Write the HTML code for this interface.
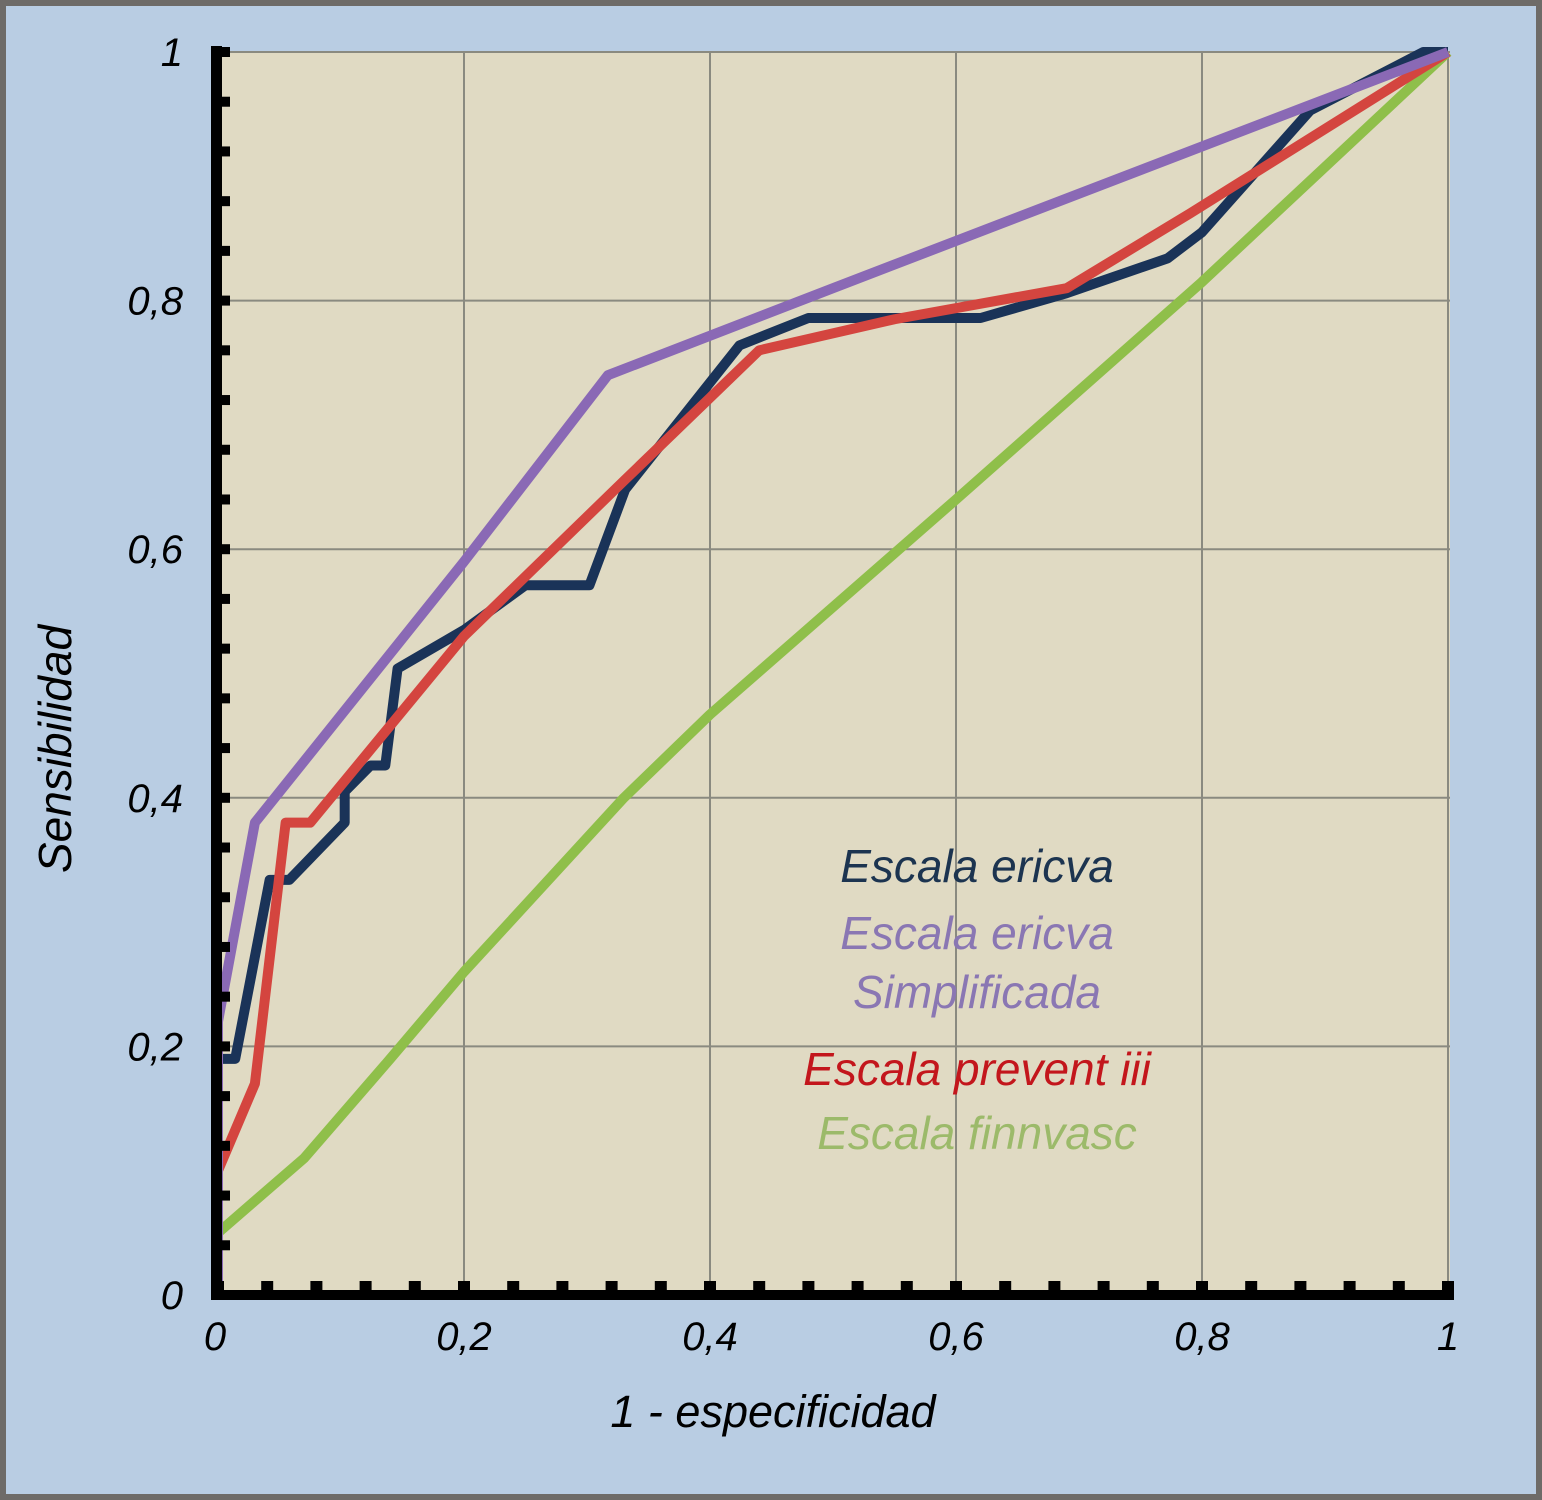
<!DOCTYPE html>
<html><head><meta charset="utf-8"><style>
html,body{margin:0;padding:0;}
body{width:1542px;height:1500px;overflow:hidden;background:#6e6b68;}
svg{display:block;}
text{font-family:"Liberation Sans",sans-serif;font-style:italic;}
</style></head><body>
<svg id="chart" width="1542" height="1500">
<rect x="6" y="6" width="1530" height="1488" fill="#b9cde3"/>
<rect x="218" y="52" width="1232" height="1243" fill="#e0dac3"/>
<g id="grid"></g><g id="series"></g><g id="axes"></g>
<text x="977" y="882" font-size="46" fill="#1c3450" text-anchor="middle">Escala ericva</text>
<text x="977" y="949" font-size="46" fill="#8a77b3" text-anchor="middle">Escala ericva</text>
<text x="977" y="1008" font-size="46" fill="#8a77b3" text-anchor="middle">Simplificada</text>
<text x="977" y="1085" font-size="46" fill="#c3161c" text-anchor="middle">Escala prevent iii</text>
<text x="977" y="1149" font-size="46" fill="#9cba6a" text-anchor="middle">Escala finnvasc</text>
<text x="773" y="1427" font-size="45" fill="#000" text-anchor="middle">1 - especificidad</text>
<text transform="translate(71,749) rotate(-90)" font-size="46" fill="#000" text-anchor="middle">Sensibilidad</text>
</svg>
<script>
const ticks=[0,0.2,0.4,0.6,0.8,1];
const tickLabels=["0","0,2","0,4","0,6","0,8","1"];
const ericvaX=[0,0,0.014,0.042,0.058,0.103,0.103,0.124,0.136,0.146,0.2,0.25,0.302,0.331,0.424,0.48,0.62,0.69,0.772,0.8,0.888,0.98,1];
const ericvaY=[0,0.19,0.19,0.334,0.334,0.38,0.405,0.426,0.426,0.504,0.535,0.571,0.571,0.648,0.764,0.786,0.786,0.806,0.834,0.855,0.953,1,1];
const simpX=[0,0,0.03,0.2,0.317,0.5,1];
const simpY=[0,0.22,0.38,0.59,0.74,0.81,1];
const preventX=[0,0.03,0.055,0.075,0.2,0.33,0.44,0.55,0.69,0.79,1];
const preventY=[0.1,0.17,0.38,0.38,0.53,0.655,0.76,0.785,0.81,0.87,1];
const finnX=[0,0.07,0.14,0.2,0.33,0.4,0.6,0.8,1];
const finnY=[0.05,0.11,0.19,0.26,0.4,0.467,0.64,0.815,1];
const X0=218,X1=1448,Y0=1295,Y1=52;
const sx=v=>X0+v*(X1-X0), sy=v=>Y0-v*(Y0-Y1);
const NS="http://www.w3.org/2000/svg";
const grid=document.getElementById('grid'),axes=document.getElementById('axes'),series=document.getElementById('series');
function mk(tag,attrs,parent){const e=document.createElementNS(NS,tag);for(const k in attrs)e.setAttribute(k,attrs[k]);parent.appendChild(e);return e;}
ticks.forEach((t,i)=>{
  if(t>0){const g=mk('line',{x1:sx(t),x2:sx(t),y1:Y1,y2:Y0,stroke:'#8a8a80','stroke-width':2},grid);
  
  
  const h=mk('line',{x1:X0,x2:X1+2,y1:sy(t),y2:sy(t),stroke:'#8a8a80','stroke-width':2},grid);
  
  }
  const xl=mk('text',{x:sx(t)-(t==0?3:0),y:1350,'font-size':40,'text-anchor':'middle',fill:'#000'},axes);xl.textContent=tickLabels[i];
  
  
  const yl=mk('text',{x:183,y:sy(t)+14,'font-size':40,'text-anchor':'end',fill:'#000'},axes);yl.textContent=tickLabels[i];
  
  
});
function line(xs,ys,color,w,name){
  const p=mk('polyline',{points:xs.map((x,i)=>sx(x)+','+sy(ys[i])).join(' '),fill:'none',stroke:color,'stroke-width':w,'stroke-linejoin':'round'},series);
  
  
}
line(finnX,finnY,'#8fbf4a',10,'line-finnvasc');
line(ericvaX,ericvaY,'#1a3358',10,'line-ericva');
line(preventX,preventY,'#d4453f',10,'line-prevent-iii');
line(simpX,simpY,'#8a69b5',10,'line-ericva-simplificada');
const ya=mk('rect',{x:211,y:46,width:11,height:1254,fill:'#000'},axes);


const xa=mk('rect',{x:211,y:1290,width:1243,height:10,fill:'#000'},axes);


for(let i=0;i<=25;i++){
  const v=i*0.04;
  const t=mk('rect',{x:220,y:sy(v)-5,width:10,height:10,fill:'#000'},axes);
  
  
  const u=mk('rect',{x:sx(v)-6,y:1281,width:12,height:10,fill:'#000'},axes);
  
  
}
</script>
</body></html>
